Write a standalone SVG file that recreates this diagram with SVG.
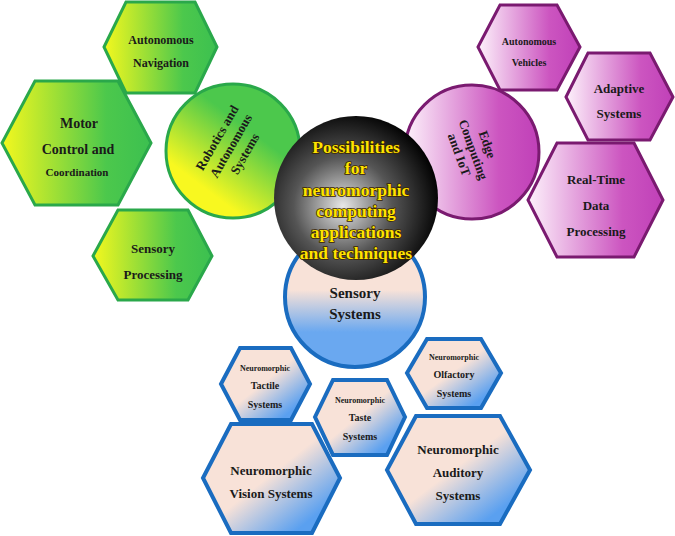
<svg xmlns="http://www.w3.org/2000/svg" width="675" height="536" viewBox="0 0 675 536">
<defs>
<linearGradient id="gG" x1="0" y1="0" x2="1" y2="0"><stop offset="0" stop-color="#f4f81e"/><stop offset="0.7" stop-color="#4cc84c"/><stop offset="1" stop-color="#3cc050"/></linearGradient>
<linearGradient id="gGc" x1="0.2" y1="0.9" x2="0.8" y2="0.1"><stop offset="0.15" stop-color="#f8f820"/><stop offset="0.7" stop-color="#4cc84c"/></linearGradient>
<linearGradient id="gP" x1="0" y1="0" x2="1" y2="0"><stop offset="0" stop-color="#fdf2fb"/><stop offset="0.7" stop-color="#cc55c0"/><stop offset="1" stop-color="#c040b8"/></linearGradient>
<linearGradient id="gB" x1="0.2" y1="0.2" x2="0.9" y2="0.9"><stop offset="0.4" stop-color="#f8e2d8"/><stop offset="0.9" stop-color="#5aa0f0"/></linearGradient>
<linearGradient id="gBc" x1="0" y1="0" x2="0" y2="1"><stop offset="0.45" stop-color="#f8e2d8"/><stop offset="0.75" stop-color="#6aa8f0"/></linearGradient>
<radialGradient id="gK" cx="0.42" cy="0.55" r="0.6"><stop offset="0" stop-color="#e8e8e8"/><stop offset="0.5" stop-color="#555"/><stop offset="1" stop-color="#000"/></radialGradient>
<style>
.gs{stroke:#2aa84a;stroke-width:3}
.ps{stroke:#7a1a70;stroke-width:3}
.bs{stroke:#1a6cc0;stroke-width:4}
text{font-family:"Liberation Serif",serif;font-weight:700;fill:#1a1a1a;text-anchor:middle}
.c{fill:#ffe400;stroke:#3a2400;stroke-width:1.5;paint-order:stroke;font-size:17.5px}
</style>
</defs>
<g id="connectors"/>
<g id="autonav"><polygon class="gs" fill="url(#gG)" points="104,47 126,2 195,2 217,47 195,93 126,93"/><text x="161" y="44" font-size="12">Autonomous</text><text x="161" y="67" font-size="12">Navigation</text></g>
<g id="motor"><polygon class="gs" fill="url(#gG)" points="2,143 35,81 118,81 151,143 118,205 35,205"/><text x="79" y="128" font-size="14">Motor</text><text x="78" y="154" font-size="14">Control and</text><text x="77" y="176" font-size="11">Coordination</text></g>
<g id="sensproc"><polygon class="gs" fill="url(#gG)" points="93,256 118,210 188,210 212,256 188,300 118,300"/><text x="153" y="253" font-size="13">Sensory</text><text x="153" y="279" font-size="13">Processing</text></g>
<g id="robotics"><circle cx="233" cy="151" r="67" class="gs" fill="url(#gGc)"/><g transform="translate(233,147) rotate(-60)" font-size="13"><text x="0" y="-14">Robotics and</text><text x="0" y="2">Autonomous</text><text x="0" y="18">Systems</text></g></g>
<g id="autoveh"><polygon class="ps" fill="url(#gP)" points="478,47 500,5 557,5 580,47 557,90 500,90"/><text x="529" y="45" font-size="10">Autonomous</text><text x="529" y="66" font-size="10">Vehicles</text></g>
<g id="adaptive"><polygon class="ps" fill="url(#gP)" points="566,97 588,53 650,53 673,97 650,140 588,140"/><text x="619" y="93" font-size="13">Adaptive</text><text x="619" y="118" font-size="13">Systems</text></g>
<g id="realtime"><polygon class="ps" fill="url(#gP)" points="528,200 557,143 634,143 663,200 634,257 557,257"/><text x="596" y="184" font-size="13">Real-Time</text><text x="596" y="210" font-size="13">Data</text><text x="596" y="236" font-size="13">Processing</text></g>
<g id="edge"><circle cx="472" cy="152" r="67" class="ps" fill="url(#gP)"/><g transform="translate(472,150) rotate(70)" font-size="13"><text x="0" y="-12">Edge</text><text x="0" y="3">Computing</text><text x="0" y="18">and IoT</text></g></g>
<g id="sensory"><circle cx="355" cy="297" r="70" class="bs" fill="url(#gBc)"/><text x="355" y="298" font-size="15">Sensory</text><text x="355" y="319" font-size="15">Systems</text></g>
<g id="center"><circle cx="356" cy="198" r="82" fill="url(#gK)"/><text class="c" x="356" y="153">Possibilities</text><text class="c" x="356" y="174">for</text><text class="c" x="356" y="196">neuromorphic</text><text class="c" x="356" y="217">computing</text><text class="c" x="356" y="238">applications</text><text class="c" x="356" y="259">and techniques</text></g>
<g id="tactile"><polygon class="bs" fill="url(#gB)" points="221,384 240,348 291,348 310,384 291,420 240,420"/><text x="265" y="371" font-size="8">Neuromorphic</text><text x="265" y="389" font-size="10">Tactile</text><text x="265" y="408" font-size="10">Systems</text></g>
<g id="taste"><polygon class="bs" fill="url(#gB)" points="315,417 333,380 387,380 405,417 387,455 333,455"/><text x="360" y="403" font-size="8">Neuromorphic</text><text x="360" y="421" font-size="10">Taste</text><text x="360" y="440" font-size="10">Systems</text></g>
<g id="olfactory"><polygon class="bs" fill="url(#gB)" points="407,373 427,339 481,339 501,373 481,408 427,408"/><text x="454" y="360" font-size="8">Neuromorphic</text><text x="454" y="378" font-size="10">Olfactory</text><text x="454" y="397" font-size="10">Systems</text></g>
<g id="vision"><polygon class="bs" fill="url(#gB)" points="203,478 231,424 312,424 340,478 312,533 231,533"/><text x="271" y="475" font-size="13">Neuromorphic</text><text x="271" y="498" font-size="13">Vision Systems</text></g>
<g id="auditory"><polygon class="bs" fill="url(#gB)" points="387,470 416,416 500,416 530,470 500,524 416,524"/><text x="458" y="454" font-size="13">Neuromorphic</text><text x="458" y="477" font-size="13">Auditory</text><text x="458" y="500" font-size="13">Systems</text></g>
</svg>
